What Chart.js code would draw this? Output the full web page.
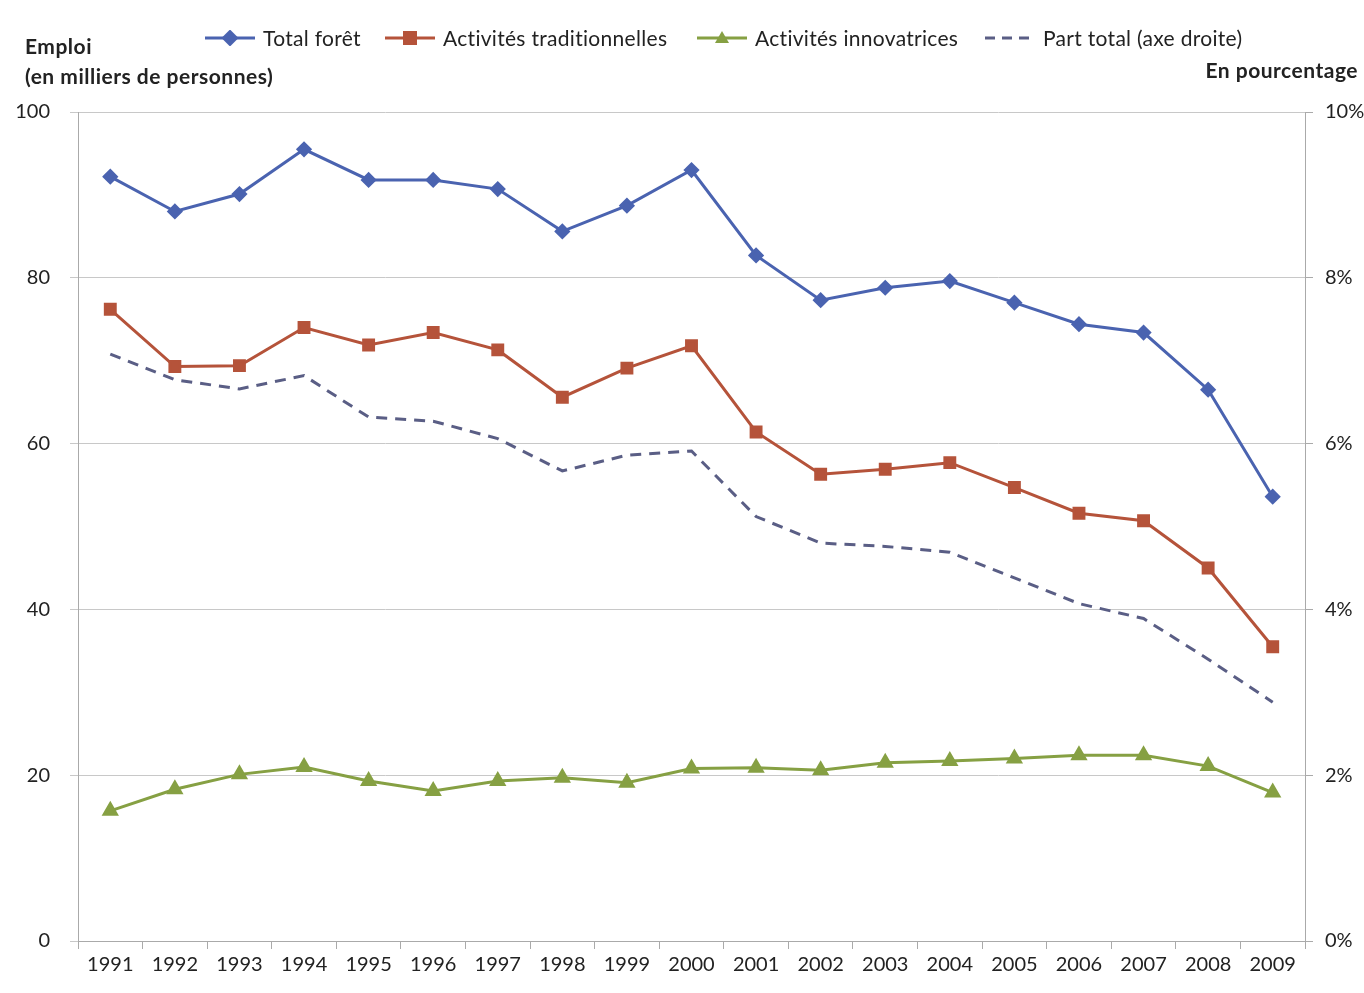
<!DOCTYPE html>
<html>
<head>
<meta charset="utf-8">
<script src="https://cdn.jsdelivr.net/npm/chart.js@4"></script>
<style>
	body { margin: 0; background: #fff; font-family: Lato, "Open Sans", sans-serif; color: #222; }
	#wrap { position: relative; width: 1364px; height: 993px; }
	.lbl { position: absolute; font-weight: bold; font-size: 21px; letter-spacing: 0.5px; white-space: nowrap; line-height: 24px; }
	.leg { position: absolute; top: 26px; font-size: 21px; letter-spacing: 0.3px; line-height: 24px; white-space: nowrap; display: flex; align-items: center; }
	.leg svg { margin-right: 6px; }
</style>
</head>
<body>
<div id="wrap">
	<canvas id="mycanvas" width="1364" height="993"></canvas>
	<div class="lbl" style="left:25px; top:34px;">Emploi</div>
	<div class="lbl" style="left:25px; top:64px;">(en milliers de personnes)</div>
	<div class="lbl" style="right:6px; top:58px;">En pourcentage</div>
	<div id="legend"></div>
</div>
<script>
var years = ['1991','1992','1993','1994','1995','1996','1997','1998','1999','2000',
	'2001','2002','2003','2004','2005','2006','2007','2008','2009'];

var totalForet = [92.2, 88.0, 90.1, 95.5, 91.8, 91.8, 90.7, 85.6, 88.7, 93.0,
	82.7, 77.3, 78.8, 79.6, 77.0, 74.4, 73.4, 66.5, 53.6];
var traditionnelles = [76.2, 69.3, 69.4, 74.0, 71.9, 73.4, 71.3, 65.6, 69.1, 71.8,
	61.4, 56.3, 56.9, 57.7, 54.7, 51.6, 50.7, 45.0, 35.5];
var innovatrices = [15.7, 18.3, 20.1, 21.0, 19.3, 18.1, 19.3, 19.7, 19.1, 20.8,
	20.9, 20.6, 21.5, 21.7, 22.0, 22.4, 22.4, 21.1, 17.9];
var partTotal = [7.08, 6.77, 6.66, 6.82, 6.32, 6.27, 6.06, 5.67, 5.86, 5.91,
	5.12, 4.80, 4.76, 4.69, 4.38, 4.07, 3.89, 3.40, 2.88];

var blue = '#4a63b0', red = '#b5533a', green = '#86a043', dash = '#5a5e85';

// legend, Excel style (line with marker)
var legendItems = [
	{ text: 'Total forêt', left: 205, svg: '<line x1="0" y1="8" x2="50" y2="8" stroke="' + blue + '" stroke-width="3"/><rect x="19" y="2" width="12" height="12" fill="' + blue + '" transform="rotate(45 25 8)" />' },
	{ text: 'Activités traditionnelles', left: 385, svg: '<line x1="0" y1="8" x2="50" y2="8" stroke="' + red + '" stroke-width="3"/><rect x="18" y="1" width="14" height="14" fill="' + red + '"/>' },
	{ text: 'Activités innovatrices', left: 697, svg: '<line x1="0" y1="8" x2="50" y2="8" stroke="' + green + '" stroke-width="3"/><polygon points="25,1 32,13 18,13" fill="' + green + '"/>' },
	{ text: 'Part total (axe droite)', left: 985, svg: '<line x1="0" y1="8" x2="46" y2="8" stroke="' + dash + '" stroke-width="3" stroke-dasharray="10,7"/>' }
];
var legendHtml = '';
for (var i in legendItems) {
	legendHtml += '<div class="leg" style="left:' + legendItems[i].left + 'px"><svg width="52" height="16">' +
		legendItems[i].svg + '</svg><span>' + legendItems[i].text + '</span></div>';
}
document.getElementById('legend').innerHTML = legendHtml;

Chart.defaults.font.family = 'Lato, "Open Sans", sans-serif';
Chart.defaults.font.size = 20;
Chart.defaults.color = '#222';

var chartdata = {
	labels: years,
	datasets: [
		{
			label: 'Total forêt',
			data: totalForet,
			borderColor: blue,
			backgroundColor: blue,
			borderWidth: 3,
			pointStyle: 'rectRot',
			pointRadius: 6,
			yAxisID: 'y'
		},
		{
			label: 'Activités traditionnelles',
			data: traditionnelles,
			borderColor: red,
			backgroundColor: red,
			borderWidth: 3,
			pointStyle: 'rect',
			pointRadius: 7,
			yAxisID: 'y'
		},
		{
			label: 'Activités innovatrices',
			data: innovatrices,
			borderColor: green,
			backgroundColor: green,
			borderWidth: 3,
			pointStyle: 'triangle',
			pointRadius: 7,
			yAxisID: 'y'
		},
		{
			label: 'Part total (axe droite)',
			data: partTotal,
			borderColor: dash,
			backgroundColor: dash,
			borderWidth: 3,
			borderDash: [11, 8],
			pointRadius: 0,
			yAxisID: 'y2'
		}
	]
};

var ctx = document.getElementById('mycanvas');

var lineGraph = new Chart(ctx, {
	type: 'line',
	data: chartdata,
	options: {
		responsive: false,
		animation: false,
		layout: { padding: { top: 112, left: 0, right: 0, bottom: 0 } },
		plugins: { legend: { display: false }, tooltip: { enabled: false } },
		scales: {
			x: {
				offset: true,
				grid: { drawOnChartArea: false, offset: true, tickLength: 8, color: '#aaa' },
				border: { color: '#aaa' },
				ticks: { padding: 4, maxRotation: 0 },
				afterFit: function(scale) { scale.height = 52; }
			},
			y: {
				position: 'left',
				min: 0,
				max: 100,
				ticks: { stepSize: 20, padding: 20 },
				grid: { color: '#c8c8c8', tickLength: 8 },
				border: { color: '#aaa' },
				afterFit: function(scale) { scale.width = 78; }
			},
			y2: {
				position: 'right',
				min: 0,
				max: 10,
				ticks: {
					stepSize: 2,
					padding: 12,
					callback: function(v) { return v + '%'; }
				},
				grid: { drawOnChartArea: false, color: '#aaa', tickLength: 8 },
				border: { color: '#aaa' },
				afterFit: function(scale) { scale.width = 59; }
			}
		}
	}
});
</script>
</body>
</html>
